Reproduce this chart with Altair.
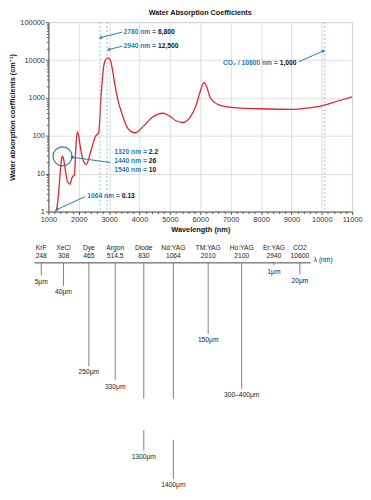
import math
import altair as alt
import pandas as pd

FONT = "Liberation Sans"
RED = "#e2232d"
BLUE = "#2a79b0"
LIGHT_BLUE = "#86b6d6"
GRID = "#d6d6d6"
AXIS = "#555555"

# ---------------- water absorption curve ----------------
wavelength_nm = [1240, 1300, 1357, 1400, 1440, 1465, 1500, 1560, 1627, 1705,
                 1790, 1855, 1900, 1950, 2000, 2060, 2170, 2245, 2385, 2550,
                 2655, 2740, 2820, 2890, 2960, 3035, 3200, 3300, 3410, 3630,
                 3850, 4100, 4400, 4770, 5000, 5200, 5420, 5650, 5850, 6000,
                 6120, 6200, 6335, 6660, 7200, 7960, 9040, 9500, 10020, 10500,
                 11000]
absorption = [1.0, 1.6, 5.1, 14, 26, 29, 24, 12, 6.2, 5.3,
              8.3, 9.2, 45, 128, 95, 45, 20, 17.5, 37, 97,
              123, 1360, 6800, 10600, 11500, 10100, 2000, 800, 410, 150,
              120, 170, 300, 395, 330, 250, 225, 300, 600, 1500,
              2600, 2100, 1000, 640, 550, 520, 500, 540, 630, 820,
              1070]

x_ticks = [1000, 2000, 3000, 4000, 5000, 6000, 7000, 8000, 9000, 10000, 11000]
y_ticks = [1, 10, 100, 1000, 10000, 100000]

# dashed marker lines (as drawn)
marker_nm = [2700, 2930, 10100]

# annotation texts: blue part ends at ann_nm, black value follows
ann_nm = [4542, 4542, 4240, 4240, 4240, 3351, 8549]
ann_val = [55000, 23300, 37.2, 21.7, 12.6, 2.5, 8200]
ann_label = ["2780 nm =", "2940 nm =", "1320 nm =", "1440 nm =", "1540 nm =",
             "1064 nm =", "CO\u2082 / 10600 nm ="]
ann_value = ["6,800", "12,500", "2.2", "26", "10", "0.13", "1,000"]

# arrows
arrow_from_nm = [3435, 3435, 9247, 3036, 2201]
arrow_from_val = [55000, 23300, 9080, 19.7, 2.46]
arrow_to_nm = [2711, 2981, 10058, 1770, 1270]
arrow_to_val = [39000, 19000, 17600, 27.5, 1.13]

# highlight circle
circle_nm = [1464]
circle_val = [28.7]

# ---------------- laser penetration diagram ----------------
laser_names = ["KrF", "XeCl", "Dye", "Argon", "Diode", "Nd:YAG", "TM:YAG",
               "Ho:YAG", "Er:YAG", "CO2"]
laser_wl = ["248", "308", "465", "514.5", "830", "1064", "2010", "2100",
            "2940", "10600"]
laser_slot = [-7.3, 15.3, 41, 67.7, 96.7, 126.7, 162, 196, 228.7, 255]
depth_text = ["5\u03bcm", "40\u03bcm", "250\u03bcm", "330\u03bcm", "1300\u03bcm",
              "1400\u03bcm", "150\u03bcm", "300\u2013400\u03bcm", "1\u03bcm", "20\u03bcm"]
line_depth = [13, 24, 107.3, 122, 195.3, 224.7, 74, 131.3, 2.5, 12]
break_start = [None, None, None, None, 141.3, 141.3, None, None, None, None]
break_end = [None, None, None, None, 174, 184, None, None, None, None]
baseline_from = [-14]
baseline_to = [266]
axis_label_slot = [269]

# ---------------- top chart ----------------
W, H = 308, 192
X0, X1 = 1000, 11000


def sx(nm):
    return (nm - X0) / (X1 - X0) * W


def sy(v):
    return H - math.log10(v) / 5 * H


arrow_angle = []
for a, b, c, d in zip(arrow_from_nm, arrow_from_val, arrow_to_nm, arrow_to_val):
    dx = sx(c) - sx(a)
    dy = sy(d) - sy(b)
    arrow_angle.append(math.degrees(math.atan2(dx, -dy)) % 360)

xs = alt.Scale(domain=[X0, X1], nice=False, zero=False)
ys = alt.Scale(type="log", domain=[1, 100000], nice=False)

curve_df = pd.DataFrame({"nm": wavelength_nm, "val": absorption})
marker_df = pd.DataFrame({"nm": marker_nm})
ann_df = pd.DataFrame({"nm": ann_nm, "val": ann_val, "label": ann_label,
                       "value": ann_value})
arrow_df = pd.DataFrame({"nm": arrow_from_nm, "val": arrow_from_val,
                         "nm2": arrow_to_nm, "val2": arrow_to_val,
                         "angle": arrow_angle})
circle_df = pd.DataFrame({"nm": circle_nm, "val": circle_val})

minor_x = [v for v in range(1200, 11000, 200) if v % 1000 != 0]
minor_y = [k * 10 ** e for e in range(0, 5) for k in range(2, 10)]

main_x_axis = alt.Axis(title="Wavelength (nm)", values=x_ticks, format="d",
                       grid=True, gridColor=GRID, gridWidth=0.8,
                       domainColor=AXIS, tickColor=AXIS, tickSize=3,
                       labelFontSize=7.5, labelColor="#333", labelPadding=1,
                       labelFont=FONT, titleFont=FONT, titleFontSize=7.5,
                       titleFontWeight="bold", titleColor="#111",
                       titlePadding=3, labelFlush=False, labelOverlap=False)
main_y_axis = alt.Axis(title="Water absorption coefficients (cm\u207b\u00b9)",
                       values=y_ticks, format="d", grid=True, gridColor=GRID,
                       gridWidth=0.8, domainColor=AXIS, tickColor=AXIS,
                       tickSize=3, labelFontSize=7.5, labelColor="#333",
                       labelPadding=1, labelFont=FONT, titleFont=FONT,
                       titleFontSize=7.5, titleFontWeight="bold",
                       titleColor="#111", titlePadding=3, labelFlush=False,
                       labelOverlap=False)

curve = alt.Chart(curve_df).mark_line(color=RED, strokeWidth=1.3,
                                      interpolate="monotone").encode(
    x=alt.X("nm:Q", scale=xs, axis=main_x_axis),
    y=alt.Y("val:Q", scale=ys, axis=main_y_axis),
)

minor = alt.Chart(curve_df).mark_point(opacity=0).encode(
    x=alt.X("nm:Q", scale=xs,
            axis=alt.Axis(orient="bottom", values=minor_x, labels=False,
                          grid=False, domain=False, tickSize=2,
                          tickColor=AXIS, title=None)),
    y=alt.Y("val:Q", scale=ys,
            axis=alt.Axis(orient="left", values=minor_y, labels=False,
                          grid=False, domain=False, tickSize=2,
                          tickColor=AXIS, title=None)),
)

markers = alt.Chart(marker_df).mark_rule(
    color=LIGHT_BLUE, strokeDash=[2, 2], strokeWidth=0.9).encode(
    x=alt.X("nm:Q", scale=xs, axis=None))

arrow_lines = alt.Chart(arrow_df).mark_rule(color=BLUE, strokeWidth=1).encode(
    x=alt.X("nm:Q", scale=xs, axis=None),
    y=alt.Y("val:Q", scale=ys, axis=None),
    x2="nm2:Q", y2="val2:Q")

arrow_heads = alt.Chart(arrow_df).mark_point(
    shape="triangle-up", filled=True, color=BLUE, size=14, opacity=1).encode(
    x=alt.X("nm2:Q", scale=xs, axis=None),
    y=alt.Y("val2:Q", scale=ys, axis=None),
    angle=alt.Angle("angle:Q", scale=None))

circle = alt.Chart(circle_df).mark_point(
    shape="circle", filled=False, color=BLUE, size=370, strokeWidth=1.2,
    opacity=1).encode(
    x=alt.X("nm:Q", scale=xs, axis=None),
    y=alt.Y("val:Q", scale=ys, axis=None))

ann_blue = alt.Chart(ann_df).mark_text(
    align="right", baseline="middle", font=FONT, fontSize=6.8,
    fontWeight="bold", color=BLUE).encode(
    x=alt.X("nm:Q", scale=xs, axis=None),
    y=alt.Y("val:Q", scale=ys, axis=None),
    text="label:N")

ann_black = alt.Chart(ann_df).mark_text(
    align="left", baseline="middle", dx=2, font=FONT, fontSize=6.8,
    fontWeight="bold", color="#111").encode(
    x=alt.X("nm:Q", scale=xs, axis=None),
    y=alt.Y("val:Q", scale=ys, axis=None),
    text="value:N")

top = alt.layer(curve, minor, markers, arrow_lines, arrow_heads, circle,
                ann_blue, ann_black).resolve_axis(
    x="independent", y="independent").properties(
    width=W, height=H,
    title=alt.TitleParams("Water Absorption Coefficients", font=FONT,
                          fontSize=7.3, fontWeight="bold", color="#111",
                          anchor="middle", offset=2),
    view=alt.ViewConfig(stroke="#c8c8c8", strokeWidth=0.8))

# ---------------- bottom diagram ----------------
dxs = alt.Scale(domain=[0, 308], nice=False, zero=False)
dys = alt.Scale(domain=[0, 240], nice=False, zero=False, reverse=True)

laser_df = pd.DataFrame({"name": laser_names, "wl": laser_wl,
                         "slot": laser_slot, "depth": line_depth,
                         "label": depth_text, "zero": [0] * len(laser_names)})
seg_rows = []
for s, d, bs, be in zip(laser_slot, line_depth, break_start, break_end):
    if bs is None:
        seg_rows.append({"slot": s, "y0": 0, "y1": d})
    else:
        seg_rows.append({"slot": s, "y0": 0, "y1": bs})
        seg_rows.append({"slot": s, "y0": be, "y1": d})
seg_df = pd.DataFrame(seg_rows)
base_df = pd.DataFrame({"a": baseline_from, "b": baseline_to, "y": [0]})
lam_df = pd.DataFrame({"slot": axis_label_slot, "y": [0], "t": ["\u03bb (nm)"]})

baseline = alt.Chart(base_df).mark_rule(color="#444", strokeWidth=1).encode(
    x=alt.X("a:Q", scale=dxs, axis=None), x2="b:Q",
    y=alt.Y("y:Q", scale=dys, axis=None))

segs = alt.Chart(seg_df).mark_rule(color="#808080", strokeWidth=1).encode(
    x=alt.X("slot:Q", scale=dxs, axis=None),
    y=alt.Y("y0:Q", scale=dys, axis=None), y2="y1:Q")

txt = dict(font=FONT, fontSize=6.8, color="#222", baseline="middle")

names = alt.Chart(laser_df).mark_text(dy=-15.5, **txt).encode(
    x=alt.X("slot:Q", scale=dxs, axis=None),
    y=alt.Y("zero:Q", scale=dys, axis=None), text="name:N")
wls = alt.Chart(laser_df).mark_text(dy=-6.5, **txt).encode(
    x=alt.X("slot:Q", scale=dxs, axis=None),
    y=alt.Y("zero:Q", scale=dys, axis=None), text="wl:N")
depth_labels = alt.Chart(laser_df).mark_text(dy=6.5, **txt).encode(
    x=alt.X("slot:Q", scale=dxs, axis=None),
    y=alt.Y("depth:Q", scale=dys, axis=None), text="label:N")
lam = alt.Chart(lam_df).mark_text(align="left", dy=-3, **txt).encode(
    x=alt.X("slot:Q", scale=dxs, axis=None),
    y=alt.Y("y:Q", scale=dys, axis=None), text="t:N")

bottom = alt.layer(baseline, segs, names, wls, depth_labels, lam).properties(
    width=308, height=234,
    view=alt.ViewConfig(stroke="transparent"))

chart = alt.vconcat(top, bottom, spacing=10).properties(
    padding={"left": 0, "top": -3, "right": 0, "bottom": 0}
).configure(font=FONT)

chart.save("out.html", embed_options={"renderer": "svg", "actions": False})
